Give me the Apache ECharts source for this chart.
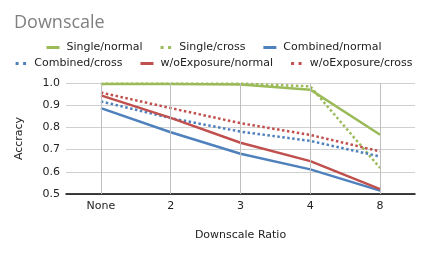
<!DOCTYPE html>
<html><head><meta charset="utf-8">
<script src="https://cdn.jsdelivr.net/npm/echarts@6/dist/echarts.min.js"></script>
<style>html,body{margin:0;padding:0;background:#fff}#c{width:428px;height:255px}</style>
</head><body><div id="c"></div>
<script>
const categories = ['None', '2', '3', '4', '8'];
const singleNormal = [0.995, 0.995, 0.993, 0.970, 0.767];
const singleCross = [0.996, 0.997, 0.997, 0.985, 0.617];
const combinedNormal = [0.887, 0.778, 0.681, 0.611, 0.515];
const combinedCross = [0.917, 0.842, 0.781, 0.739, 0.669];
const woNormal = [0.944, 0.843, 0.731, 0.648, 0.522];
const woCross = [0.957, 0.887, 0.819, 0.766, 0.692];
const yTicks = [0.5, 0.6, 0.7, 0.8, 0.9, 1.0];

const GREEN = '#9BBB59', BLUE = '#4F81BD', RED = '#C0504D';
const FONT = 'DejaVu Sans';
const SOLID_ICON = 'rect';
const DOT_ICON = 'path://M0,0H4V4H0Z M10,0H14V4H10Z';
function s(name, data, color, type) {
  return {
    name, type: 'line', data, showSymbol: false, symbol: 'none', silent: true,
    lineStyle: { color, width: 2.5, type }, itemStyle: { color }, z: 3
  };
}
const series = [
  s('Single/normal', singleNormal, GREEN, 'solid'),
  s('Single/cross', singleCross, GREEN, 'dotted'),
  s('Combined/normal', combinedNormal, BLUE, 'solid'),
  s('Combined/cross', combinedCross, BLUE, 'dotted'),
  s('w/oExposure/normal', woNormal, RED, 'solid'),
  s('w/oExposure/cross', woCross, RED, 'dotted'),
  {
    name: 'grid-v', type: 'line', data: [], z: 1, silent: true,
    markLine: {
      silent: true, symbol: 'none', label: { show: false },
      lineStyle: { color: '#bfbfbf', width: 1, type: 'solid' },
      animation: false,
      data: categories.map(c => ({ xAxis: c }))
    }
  }
];
const legendItems = series.slice(0, 6).map(x => ({
  name: x.name, icon: x.lineStyle.type === 'dotted' ? DOT_ICON : SOLID_ICON,
  itemStyle: { color: x.lineStyle.color, borderWidth: 0 }
}));
const legendText = { fontFamily: FONT, fontSize: 11, color: '#222', padding: [0, 0, 0, 2] };
const legendBase = { left: 'center', itemWidth: 13, itemHeight: 3, itemGap: 18, textStyle: legendText };
const chart = echarts.init(document.getElementById('c'), null, { renderer: 'canvas' });
chart.setOption({
  animation: false,
  title: {
    text: 'Downscale', left: 9, top: 9,
    textStyle: { fontFamily: 'Open Sans', fontSize: 18, fontWeight: 'normal', color: '#808080' }
  },
  legend: [
    Object.assign({ data: legendItems.slice(0, 3), top: 37 }, legendBase),
    Object.assign({ data: legendItems.slice(3, 6), top: 53 }, legendBase)
  ],
  grid: { left: 66, right: 13, top: 83, bottom: 61, containLabel: false },
  xAxis: {
    type: 'category', data: categories, boundaryGap: true,
    name: 'Downscale Ratio', nameLocation: 'middle', nameGap: 36,
    nameTextStyle: { fontFamily: FONT, fontSize: 11, color: '#222' },
    axisLine: { lineStyle: { color: '#000', width: 1.5 } },
    axisTick: { show: false },
    axisLabel: { fontFamily: FONT, fontSize: 11, color: '#222', margin: 7 },
    splitLine: { show: false }
  },
  yAxis: {
    type: 'value', min: 0.5, max: 1.0, interval: 0.1,
    name: 'Accracy', nameLocation: 'middle', nameGap: 41,
    nameTextStyle: { fontFamily: FONT, fontSize: 11, color: '#222' },
    axisLine: { show: false }, axisTick: { show: false },
    axisLabel: { fontFamily: FONT, fontSize: 11, color: '#222', margin: 6,
      formatter: v => yTicks.find(t => Math.abs(t - v) < 1e-6).toFixed(1) },
    splitLine: { lineStyle: { color: '#d0d0d0', width: 1 } }
  },
  series
});
</script></body></html>
